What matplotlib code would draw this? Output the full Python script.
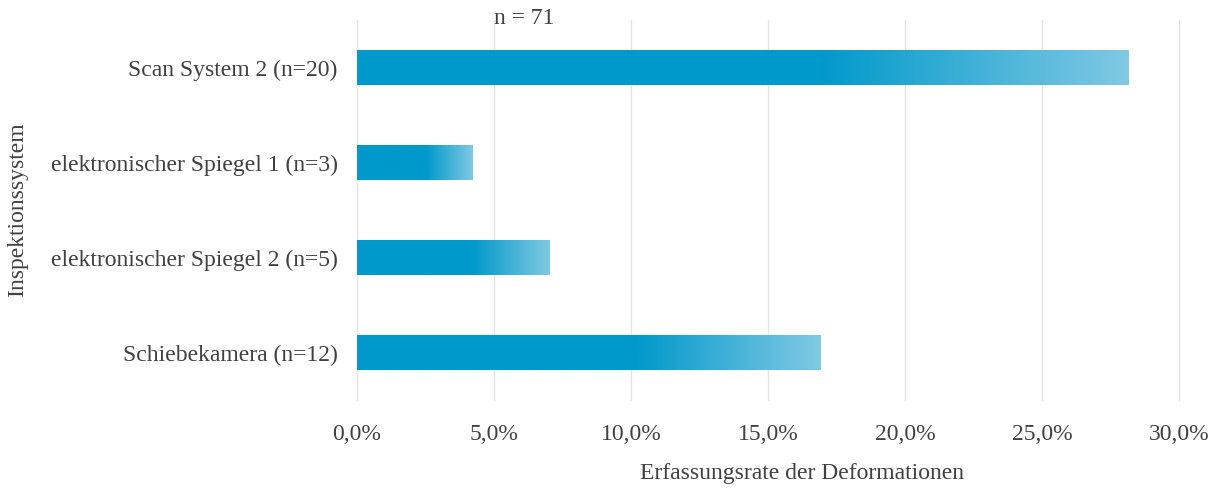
import numpy as np
import matplotlib.pyplot as plt
from matplotlib.colors import LinearSegmentedColormap
from matplotlib.ticker import FuncFormatter

plt.rcParams['font.family'] = ['Liberation Serif', 'DejaVu Serif']

systeme = ['Scan System 2 (n=20)', 'elektronischer Spiegel 1 (n=3)',
           'elektronischer Spiegel 2 (n=5)', 'Schiebekamera (n=12)']
treffer = [20, 3, 5, 12]
n_gesamt = 71
raten = [t / n_gesamt for t in treffer]

textfarbe = '#404040'
verlauf = LinearSegmentedColormap.from_list(
    'verlauf', [(0, '#0099cb'), (0.6, '#0099cb'), (1, '#80c9e3')])

fig = plt.figure(figsize=(12.21, 4.88), dpi=100)
ax = fig.add_axes([357 / 1221, 88 / 488, 822 / 1221, 380 / 488])

pos = np.arange(len(systeme))
bars = ax.barh(pos, raten, height=0.36, color='none')
grad = np.linspace(0, 1, 256).reshape(1, -1)
for b in bars:
    x0, y0 = b.get_x(), b.get_y()
    im = ax.imshow(grad, cmap=verlauf, aspect='auto', zorder=2,
                   extent=[x0, x0 + b.get_width(), y0 + b.get_height(), y0])
    im.set_clip_path(b)

ax.set_xlim(0, 0.30)
ax.set_ylim(3.5, -0.5)
ax.set_xticks(np.arange(0, 0.301, 0.05))
ax.xaxis.set_major_formatter(FuncFormatter(lambda v, p: f'{v * 100:.1f}%'.replace('.', ',')))
ax.set_yticks(pos)
ax.set_yticklabels(systeme)
for gl in ax.get_xgridlines():
    gl.set_clip_on(False)
ax.grid(axis='x', color='#e4e4e4', linewidth=1.0, zorder=0)
for gl in ax.get_xgridlines():
    gl.set_clip_on(False)
ax.set_axisbelow(True)
for s in ax.spines.values():
    s.set_visible(False)
ax.tick_params(axis='x', length=0, pad=17, labelsize=17, labelcolor=textfarbe)
ax.tick_params(axis='y', length=0, pad=14, labelsize=17, labelcolor=textfarbe)

fig.text(524 / 1221, 1 - 18 / 488, f'n = {n_gesamt}', ha='center', va='center',
         fontsize=17, color=textfarbe)
fig.text(18 / 1221, 1 - 210 / 488, 'Inspektionssystem', rotation=90,
         ha='center', va='center', fontsize=17, color=textfarbe)
fig.text(802 / 1221, 1 - 473 / 488, 'Erfassungsrate der Deformationen',
         ha='center', va='center', fontsize=17, color=textfarbe)

fig.savefig('out.png', dpi=100)
